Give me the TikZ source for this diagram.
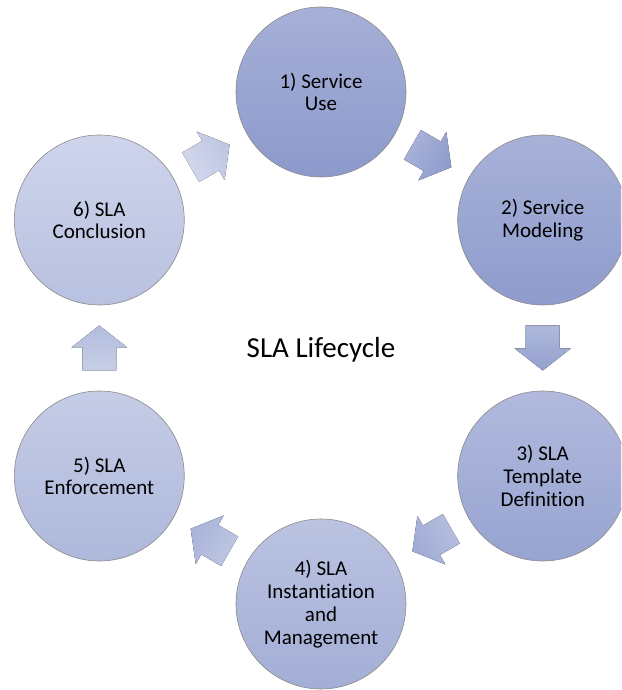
\documentclass[tikz,border=0pt]{standalone}
\usepackage{fontspec}
\setmainfont{Carlito}[Ligatures=NoCommon]
\usetikzlibrary{calc}
\definecolor{circline}{HTML}{8A8A8A}
\definecolor{ca1}{HTML}{A6B0D7}\definecolor{cb1}{HTML}{8C99CB}
\definecolor{ca2}{HTML}{A8B2D8}\definecolor{cb2}{HTML}{8E9BCC}
\definecolor{ca3}{HTML}{B1BADD}\definecolor{cb3}{HTML}{97A3D1}
\definecolor{ca4}{HTML}{BBC3E1}\definecolor{cb4}{HTML}{A3AED6}
\definecolor{ca5}{HTML}{C5CCE6}\definecolor{cb5}{HTML}{AEB8DB}
\definecolor{ca6}{HTML}{CED4EB}\definecolor{cb6}{HTML}{B8C1E0}
\definecolor{aa1}{HTML}{A9B3D9}\definecolor{ab1}{HTML}{8F9CCC}
\definecolor{aa2}{HTML}{AEB8DB}\definecolor{ab2}{HTML}{94A1CF}
\definecolor{aa3}{HTML}{B6BFDF}\definecolor{ab3}{HTML}{A0ABD5}
\definecolor{aa4}{HTML}{BFC7E3}\definecolor{ab4}{HTML}{A9B3D9}
\definecolor{aa5}{HTML}{C7CEE7}\definecolor{ab5}{HTML}{B2BCDD}
\definecolor{aa6}{HTML}{D3D8EC}\definecolor{ab6}{HTML}{BEC6E3}
\begin{document}
\begin{tikzpicture}[x=1pt,y=1pt,
  circ/.style={circle, minimum size=170pt, inner sep=0pt, draw=circline,
    line width=0.6pt, align=center, font=\fontsize{21}{22.8}\selectfont, text=black}
]
\useasboundingbox (0,0) rectangle (621,690);
\clip (0,0) rectangle (621,690);
\coordinate (ctr) at (321,342);
\node[circ, top color=ca1, bottom color=cb1] (c1) at ($(ctr)+(90:256)$) {1) Service\\Use};
\node[circ, top color=ca2, bottom color=cb2] (c2) at ($(ctr)+(30:256)$) {2) Service\\Modeling};
\node[circ, top color=ca3, bottom color=cb3] (c3) at ($(ctr)+(-30:256)$) {3) SLA\\Template\\Definition};
\node[circ, top color=ca4, bottom color=cb4] (c4) at ($(ctr)+(-90:256)$) {4) SLA\\Instantiation\\and\\Management};
\node[circ, top color=ca5, bottom color=cb5] (c5) at ($(ctr)+(-150:256)$) {5) SLA\\Enforcement};
\node[circ, top color=ca6, bottom color=cb6] (c6) at ($(ctr)+(150:256)$) {6) SLA\\Conclusion};
\node[font=\fontsize{29}{32}\selectfont] (title) at ($(ctr)+(0,-2)$) {SLA Lifecycle};
% block arrows between consecutive circles
\newcommand\blockarr[6]{% from, to, direction, shading angle, light, dark
  \begin{scope}[shift={($(#1)!0.5!(#2)$)}, rotate=#3]
    \fill[top color=#5, bottom color=#6, shading angle=#4]
      (-22.5,-17) -- (0.5,-17) -- (0.5,-28) -- (22.5,0) -- (0.5,28) -- (0.5,17) -- (-22.5,17) -- cycle;
  \end{scope}}
\blockarr{c1}{c2}{-30}{60}{aa1}{ab1}
\blockarr{c2}{c3}{-90}{0}{aa2}{ab2}
\blockarr{c3}{c4}{-150}{-60}{aa3}{ab3}
\blockarr{c4}{c5}{150}{-120}{aa4}{ab4}
\blockarr{c5}{c6}{90}{180}{aa5}{ab5}
\blockarr{c6}{c1}{30}{120}{aa6}{ab6}
\end{tikzpicture}
\end{document}
